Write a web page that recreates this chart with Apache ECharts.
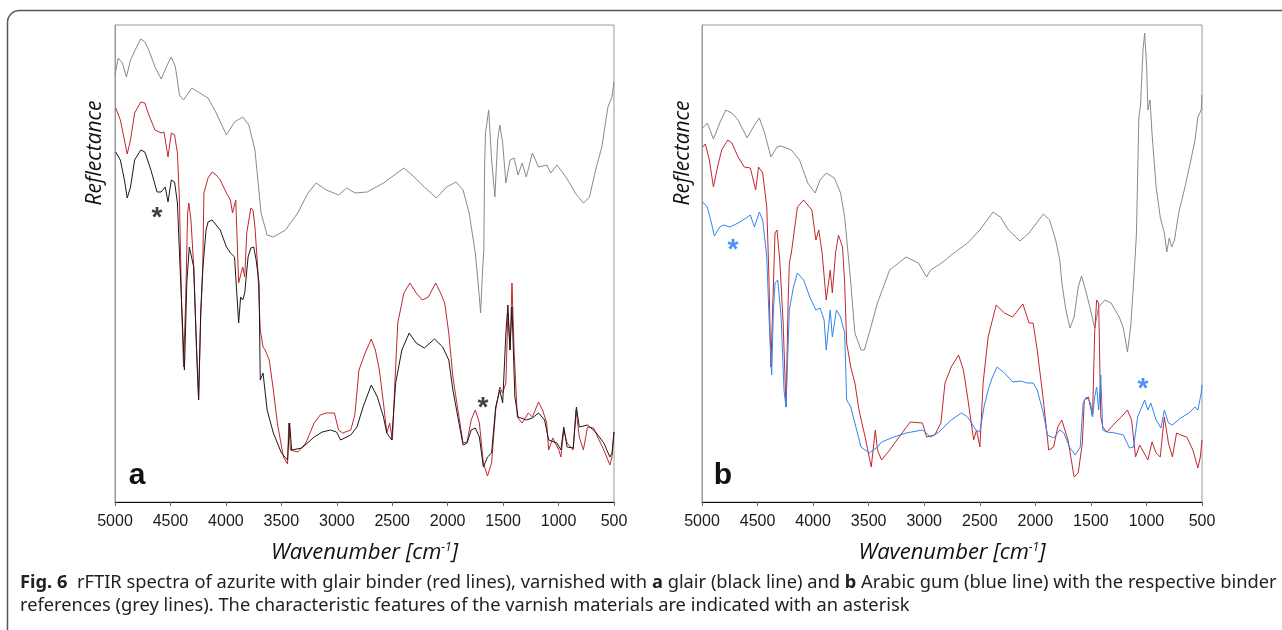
<!DOCTYPE html>
<html>
<head>
<meta charset="utf-8">
<script src="https://cdn.jsdelivr.net/npm/echarts@6/dist/echarts.min.js"></script>
<style>
html,body{margin:0;padding:0;background:#fff;}
#chart{width:1282px;height:630px;}
</style>
</head>
<body>
<div id="chart"></div>
<script>
// x tick labels (wavenumber, cm-1)
const xTicks = [5000, 4500, 4000, 3500, 3000, 2500, 2000, 1500, 1000, 500];

// Panel a: [wavenumber, reflectance (a.u.)]
const aGrey = [[5000,427],[4971,444],[4934,439],[4897,425],[4860,442],[4805,455],[4768,463],[4731,460],[4695,452],[4639,435],[4584,423],[4529,437],[4492,445],[4455,435],[4419,407],[4382,402],[4308,414],[4235,409],[4161,404],[4087,389],[3995,367],[3922,380],[3848,385],[3793,377],[3738,352],[3683,289],[3628,267],[3572,265],[3462,272],[3352,289],[3260,309],[3186,319],[3094,312],[2984,307],[2910,314],[2836,309],[2726,310],[2579,319],[2395,334],[2321,327],[2211,315],[2101,304],[2009,315],[1924,320],[1861,312],[1806,289],[1751,249],[1725,219],[1703,189],[1685,232],[1674,252],[1667,335],[1659,369],[1630,392],[1604,342],[1574,305],[1549,362],[1530,377],[1504,359],[1475,319],[1438,342],[1401,344],[1365,327],[1328,339],[1291,325],[1236,349],[1181,335],[1107,337],[1070,329],[1015,337],[960,329],[905,320],[850,309],[776,299],[721,305],[666,332],[610,355],[555,395],[518,405],[500,420]];
const aRed = [[4993,394],[4952,382],[4915,362],[4890,348],[4860,362],[4823,389],[4768,400],[4731,399],[4695,387],[4639,372],[4584,369],[4558,370],[4522,345],[4492,369],[4463,367],[4437,349],[4419,302],[4400,200],[4382,135],[4363,200],[4345,289],[4334,299],[4315,282],[4290,235],[4264,152],[4246,103],[4227,185],[4209,232],[4198,309],[4161,324],[4124,330],[4087,327],[4051,322],[3995,309],[3959,302],[3940,289],[3911,302],[3885,219],[3867,219],[3848,235],[3830,225],[3812,269],[3775,294],[3756,292],[3738,275],[3712,232],[3690,172],[3665,155],[3646,152],[3609,142],[3572,112],[3536,79],[3481,45],[3444,38],[3433,79],[3418,52],[3352,50],[3279,59],[3204,79],[3149,87],[3094,89],[3021,89],[2984,72],[2947,69],[2874,72],[2837,87],[2800,132],[2744,149],[2689,163],[2652,152],[2616,132],[2579,99],[2549,69],[2523,79],[2498,62],[2476,119],[2450,179],[2395,209],[2340,219],[2284,209],[2229,202],[2174,205],[2108,219],[2064,209],[2027,199],[1990,169],[1953,125],[1898,85],[1861,59],[1825,60],[1788,82],[1751,92],[1714,79],[1678,39],[1641,26],[1604,39],[1567,92],[1530,115],[1504,109],[1475,119],[1457,189],[1438,152],[1420,219],[1401,152],[1372,85],[1328,79],[1273,89],[1236,85],[1181,100],[1144,92],[1107,79],[1089,52],[1052,64],[997,52],[979,45],[953,72],[923,59],[868,52],[842,92],[813,65],[776,52],[739,75],[684,74],[647,65],[592,52],[537,37],[518,45],[500,70]];
const aBlack = [[4993,350],[4952,342],[4915,322],[4890,304],[4860,315],[4823,342],[4768,352],[4731,350],[4676,332],[4621,310],[4584,310],[4547,315],[4522,300],[4492,322],[4463,320],[4437,299],[4419,250],[4400,200],[4374,132],[4352,220],[4330,255],[4290,235],[4264,150],[4246,102],[4227,190],[4209,232],[4179,272],[4161,280],[4124,282],[4051,272],[3995,255],[3959,249],[3922,245],[3885,179],[3867,205],[3848,202],[3830,209],[3800,245],[3775,254],[3749,255],[3727,242],[3701,219],[3690,122],[3665,129],[3628,92],[3572,69],[3499,49],[3444,42],[3425,79],[3407,52],[3315,54],[3204,65],[3131,70],[3057,72],[3002,70],[2966,62],[2874,67],[2818,75],[2763,95],[2689,117],[2634,105],[2579,85],[2549,69],[2505,62],[2469,119],[2413,152],[2347,169],[2284,159],[2211,154],[2119,163],[2045,155],[1990,142],[1953,112],[1898,79],[1861,57],[1825,59],[1788,72],[1751,74],[1714,65],[1678,35],[1641,45],[1604,49],[1567,95],[1530,112],[1504,99],[1475,169],[1457,197],[1438,152],[1420,195],[1394,105],[1365,85],[1291,82],[1236,84],[1181,89],[1126,82],[1089,62],[1015,59],[979,52],[953,75],[923,55],[868,54],[839,95],[813,75],[739,77],[666,70],[592,59],[537,45],[518,49],[500,70]];

// Panel b: [wavenumber, reflectance (a.u.)]
const bGrey = [[4993,374],[4952,379],[4897,363],[4841,379],[4786,392],[4731,389],[4675,382],[4594,364],[4528,377],[4484,384],[4436,369],[4380,345],[4325,355],[4288,356],[4196,352],[4122,342],[4048,319],[3982,309],[3938,322],[3882,329],[3809,324],[3753,309],[3716,285],[3680,242],[3661,219],[3624,169],[3569,152],[3539,152],[3495,169],[3421,199],[3311,232],[3163,245],[3052,239],[2979,225],[2942,232],[2831,240],[2757,247],[2610,259],[2499,272],[2381,290],[2315,285],[2241,272],[2138,261],[2057,269],[1928,288],[1872,282],[1817,262],[1780,242],[1761,219],[1725,192],[1688,174],[1651,185],[1614,215],[1584,226],[1548,212],[1503,192],[1466,174],[1430,195],[1374,202],[1319,199],[1245,185],[1208,174],[1171,150],[1142,175],[1116,219],[1098,252],[1090,269],[1068,385],[1053,397],[1031,452],[1016,469],[998,435],[987,392],[968,402],[950,369],[913,315],[876,285],[839,269],[817,250],[795,264],[773,255],[747,262],[710,289],[653,315],[600,342],[563,362],[537,385],[507,392],[500,407]];
const bRed = [[4993,355],[4970,358],[4934,342],[4897,315],[4860,335],[4823,352],[4768,362],[4731,359],[4675,345],[4620,335],[4565,334],[4517,312],[4491,335],[4454,329],[4417,295],[4399,230],[4380,135],[4362,200],[4343,269],[4325,272],[4299,240],[4270,180],[4244,95],[4225,200],[4214,239],[4196,249],[4141,295],[4085,302],[4011,292],[3975,262],[3949,272],[3919,249],[3882,202],[3846,232],[3827,209],[3798,249],[3772,267],[3735,255],[3716,219],[3698,159],[3661,135],[3624,119],[3587,92],[3532,65],[3477,35],[3440,72],[3421,52],[3384,42],[3311,52],[3200,69],[3126,80],[3016,79],[2979,65],[2905,67],[2850,79],[2813,119],[2757,135],[2691,147],[2647,132],[2610,105],[2555,62],[2529,72],[2499,55],[2470,119],[2425,165],[2352,197],[2278,189],[2204,185],[2112,198],[2057,179],[2020,179],[1983,152],[1928,102],[1880,52],[1835,55],[1798,75],[1762,82],[1706,62],[1651,25],[1614,29],[1577,59],[1559,102],[1522,105],[1485,85],[1466,169],[1448,202],[1430,199],[1411,85],[1393,75],[1356,70],[1282,79],[1227,85],[1171,92],[1134,82],[1098,45],[1061,57],[987,42],[950,60],[913,49],[876,45],[839,85],[802,59],[766,45],[729,69],[692,67],[637,65],[582,52],[537,34],[515,45],[500,62]];
const bBlue = [[4993,300],[4952,295],[4915,279],[4889,266],[4841,275],[4805,277],[4749,275],[4675,279],[4602,284],[4565,287],[4528,275],[4484,290],[4454,282],[4417,245],[4395,180],[4373,127],[4358,190],[4343,219],[4318,222],[4288,185],[4262,112],[4244,95],[4214,192],[4177,215],[4141,229],[4085,222],[4030,205],[3975,192],[3938,194],[3901,182],[3882,152],[3846,192],[3827,165],[3790,192],[3753,185],[3716,169],[3698,102],[3661,95],[3624,79],[3569,55],[3495,49],[3458,52],[3421,55],[3384,60],[3274,65],[3163,69],[3016,72],[2942,65],[2868,70],[2757,82],[2665,89],[2610,85],[2573,79],[2536,72],[2499,70],[2462,95],[2425,112],[2389,124],[2344,135],[2278,129],[2204,120],[2130,121],[2075,119],[2020,119],[1983,112],[1928,89],[1891,67],[1835,64],[1780,72],[1743,69],[1688,54],[1640,47],[1596,55],[1570,99],[1540,105],[1503,99],[1485,85],[1466,105],[1448,115],[1430,92],[1411,127],[1393,72],[1356,70],[1282,69],[1208,67],[1153,54],[1116,55],[1079,85],[1042,95],[1016,102],[987,92],[961,99],[913,82],[869,74],[839,92],[802,79],[766,77],[692,84],[618,89],[563,95],[537,92],[507,109],[500,117]];

// asterisk annotations [wavenumber, reflectance]
const aStars = [[4621,290],[1681,100]];
const bStars = [[4721,258],[1031,119]];

const C_GREY = '#8a8a8a', C_RED = '#c4262e', C_BLACK = '#1a1a1a', C_BLUE = '#2f86f0';

function xAxisDef(gi){
  return {
    type:'value', gridIndex:gi, min:xTicks[xTicks.length-1], max:xTicks[0], interval:500, inverse:true,
    axisLine:{show:true, onZero:false, lineStyle:{color:'#111', width:1}},
    axisTick:{show:true, length:4, lineStyle:{color:'#666'}},
    axisLabel:{color:'#1a1a1a', fontFamily:'Liberation Sans', fontSize:16, margin:12, formatter:function(v){return String(v);}},
    splitLine:{show:false},
    name:'{t|Wavenumber [cm}{s|-1}{t|]}', nameLocation:'middle', nameGap:40,
    nameTextStyle:{rich:{
      t:{fontFamily:'Open Sans', fontStyle:'italic', fontSize:22, color:'#111'},
      s:{fontFamily:'Open Sans', fontStyle:'italic', fontSize:12, color:'#111', verticalAlign:'top', padding:[0,0,9,0]}
    }}
  };
}
function yAxisDef(gi){
  return {
    type:'value', gridIndex:gi, min:0, max:477,
    axisLine:{show:true, lineStyle:{color:'#999'}},
    axisTick:{show:false}, axisLabel:{show:false}, splitLine:{show:false}
  };
}
function lineSeries(data, color, gi, z){
  return {type:'line', xAxisIndex:gi, yAxisIndex:gi, data:data, showSymbol:false, symbol:'none',
    lineStyle:{color:color, width:1}, z:z, silent:true, animation:false};
}
function starSeries(data, color, gi){
  return {type:'scatter', xAxisIndex:gi, yAxisIndex:gi, data:data, symbolSize:0, z:10, silent:true,
    label:{show:true, formatter:'*', position:'inside', color:color, fontFamily:'Liberation Sans', fontWeight:'bold', fontSize:28, offset:[0,6]}};
}

const chart = echarts.init(document.getElementById('chart'), null, {renderer:'canvas'});
chart.setOption({
  animation:false,
  backgroundColor:'#fff',
  grid:[
    {left:115, right:668, top:25, bottom:128, show:true, borderColor:'#999', borderWidth:1, backgroundColor:'transparent'},
    {left:702, right:80, top:25, bottom:128, show:true, borderColor:'#999', borderWidth:1, backgroundColor:'transparent'}
  ],
  xAxis:[xAxisDef(0), xAxisDef(1)],
  yAxis:[yAxisDef(0), yAxisDef(1)],
  series:[
    lineSeries(aGrey, C_GREY, 0, 2),
    lineSeries(aRed, C_RED, 0, 3),
    lineSeries(aBlack, C_BLACK, 0, 4),
    lineSeries(bGrey, C_GREY, 1, 2),
    lineSeries(bRed, C_RED, 1, 3),
    lineSeries(bBlue, C_BLUE, 1, 4),
    starSeries(aStars, '#111', 0),
    starSeries(bStars, '#1e74f0', 1)
  ],
  graphic:[
    {type:'rect', shape:{x:7.5, y:10.5, width:1300, height:650, r:12}, style:{fill:'none', stroke:'#555', lineWidth:1.5}, z:-1, silent:true},
    {type:'text', x:95, y:153, rotation:Math.PI/2, style:{text:'Reflectance', fontFamily:'Open Sans', fontStyle:'italic', fontSize:21, fill:'#111', align:'center', verticalAlign:'middle'}},
    {type:'text', x:683, y:153, rotation:Math.PI/2, style:{text:'Reflectance', fontFamily:'Open Sans', fontStyle:'italic', fontSize:21, fill:'#111', align:'center', verticalAlign:'middle'}},
    {type:'text', x:137, y:476, style:{text:'a', fontFamily:'Liberation Sans', fontWeight:'bold', fontSize:30, fill:'#111', align:'center', verticalAlign:'middle'}},
    {type:'text', x:723, y:476, style:{text:'b', fontFamily:'Liberation Sans', fontWeight:'bold', fontSize:30, fill:'#111', align:'center', verticalAlign:'middle'}},
    {type:'text', x:20, y:583, scaleX:1.016, originX:0, style:{
      text:'{b|Fig. 6}  rFTIR spectra of azurite with glair binder (red lines), varnished with {b|a} glair (black line) and {b|b} Arabic gum (blue line) with the respective binder',
      fontFamily:'Noto Sans', fontSize:18, fill:'#222', verticalAlign:'middle',
      rich:{b:{fontFamily:'Noto Sans', fontWeight:'bold', fontSize:18, fill:'#222'}}
    }},
    {type:'text', x:20, y:606, scaleX:1.016, originX:0, style:{
      text:'references (grey lines). The characteristic features of the varnish materials are indicated with an asterisk',
      fontFamily:'Noto Sans', fontSize:18, fill:'#222', verticalAlign:'middle'
    }}
  ]
});
</script>
</body>
</html>
